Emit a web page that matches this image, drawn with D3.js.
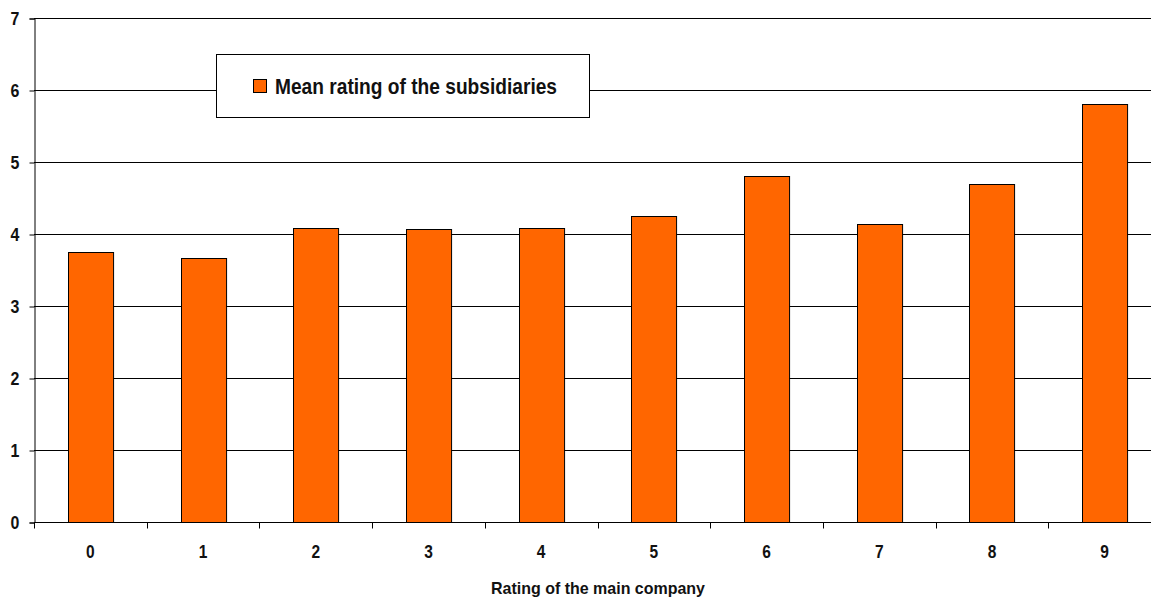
<!DOCTYPE html>
<html>
<head>
<meta charset="utf-8">
<script src="https://cdn.jsdelivr.net/npm/d3@7"></script>
<style>
  html, body { margin: 0; padding: 0; background: #fff; }
  svg { display: block; }
  text { font-family: "Liberation Sans", Arial, sans-serif; fill: #111; }
</style>
</head>
<body>
<svg id="chart" width="1151" height="597"></svg>
<script>
// Main-company rating categories and the mean rating of their subsidiaries
const categories = ["0", "1", "2", "3", "4", "5", "6", "7", "8", "9"];
const meanRatings = [3.75, 3.67, 4.09, 4.07, 4.09, 4.25, 4.8, 4.14, 4.7, 5.8];
const yTicks = [0, 1, 2, 3, 4, 5, 6, 7];
const seriesName = "Mean rating of the subsidiaries";
const xTitle = "Rating of the main company";

const NARROW = 0.84; // horizontal squeeze for a condensed look

const svg = d3.select("#chart");
const margin = { left: 34, top: 18, right: -10, bottom: 75 };
const W = 1151, H = 597;
const plotRight = W - margin.right;
const plotBottom = H - margin.bottom;

const x = d3.scaleBand().domain(categories).range([margin.left, plotRight]).paddingInner(0.6).paddingOuter(0.3);
const xEdge = d3.scaleLinear().domain([0, categories.length]).range([margin.left, plotRight]);
const y = d3.scaleLinear().domain([0, 7]).range([plotBottom, margin.top]);

// condensed text helper
function label(parent, tx, ty, str, size, anchor) {
  const g = parent.append("g").attr("transform", `translate(${tx},${ty}) scale(${NARROW},1)`);
  return g.append("text")
    .attr("text-anchor", anchor)
    .attr("font-size", size)
    .attr("font-weight", "bold")
    .text(str);
}
// text fitted to a fixed run length
function fitted(parent, tx, ty, str, size, anchor, len) {
  return parent.append("text")
    .attr("x", tx).attr("y", ty)
    .attr("text-anchor", anchor)
    .attr("font-size", size)
    .attr("font-weight", "bold")
    .attr("textLength", len)
    .attr("lengthAdjust", "spacingAndGlyphs")
    .text(str);
}

// horizontal gridlines
svg.append("g")
  .selectAll("line")
  .data(yTicks.filter(d => d > 0))
  .join("line")
  .attr("x1", margin.left).attr("x2", plotRight)
  .attr("y1", d => Math.round(y(d)) + 0.5).attr("y2", d => Math.round(y(d)) + 0.5)
  .attr("stroke", "#000").attr("stroke-width", 1);

// bars
svg.append("g")
  .selectAll("rect")
  .data(categories.map((c, i) => ({ c, v: meanRatings[i] })))
  .join("rect")
  .attr("x", d => Math.round(x(d.c)) + 0.5)
  .attr("y", d => Math.round(y(d.v)) + 0.5)
  .attr("width", x.bandwidth())
  .attr("height", d => Math.round(y(0)) - Math.round(y(d.v)))
  .attr("fill", "#FF6600")
  .attr("stroke", "#000")
  .attr("stroke-width", 1);

// y axis
const yAxis = svg.append("g")
  .attr("transform", `translate(${margin.left + 0.5},0.5)`)
  .call(d3.axisLeft(y).tickValues(yTicks).tickFormat(d3.format("d")).tickSize(5).tickPadding(8));
yAxis.select(".domain").attr("stroke", "#000");
yAxis.selectAll("line").attr("stroke", "#000");
yAxis.selectAll(".tick text").remove();
yTicks.forEach(t => label(svg, 19.5, y(t) + 7, String(t), 19, "end"));

// x axis: ticks at category boundaries, labels centered in bands
const xAxisG = svg.append("g").attr("transform", `translate(0,${Math.round(plotBottom) + 0.5})`);
xAxisG.append("line").attr("x1", margin.left).attr("x2", plotRight).attr("stroke", "#000");
xAxisG.selectAll("line.tick")
  .data(d3.range(0, categories.length + 1))
  .join("line").attr("class", "tick")
  .attr("x1", d => Math.round(xEdge(d)) + 0.5).attr("x2", d => Math.round(xEdge(d)) + 0.5)
  .attr("y1", 0).attr("y2", 6)
  .attr("stroke", "#000");
categories.forEach(c => label(svg, x(c) + x.bandwidth() / 2, 558, c, 18.5, "middle"));

// x axis title
fitted(svg, 491, 594, xTitle, 17, "start", 214);

// legend
const lg = svg.append("g");
lg.append("rect").attr("x", 216.5).attr("y", 54.5).attr("width", 373).attr("height", 63)
  .attr("fill", "#fff").attr("stroke", "#000");
lg.append("rect").attr("x", 253.5).attr("y", 79.5).attr("width", 13).attr("height", 13)
  .attr("fill", "#FF6600").attr("stroke", "#000");
fitted(lg, 275, 93.5, seriesName, 22, "start", 282);
</script>
</body>
</html>
